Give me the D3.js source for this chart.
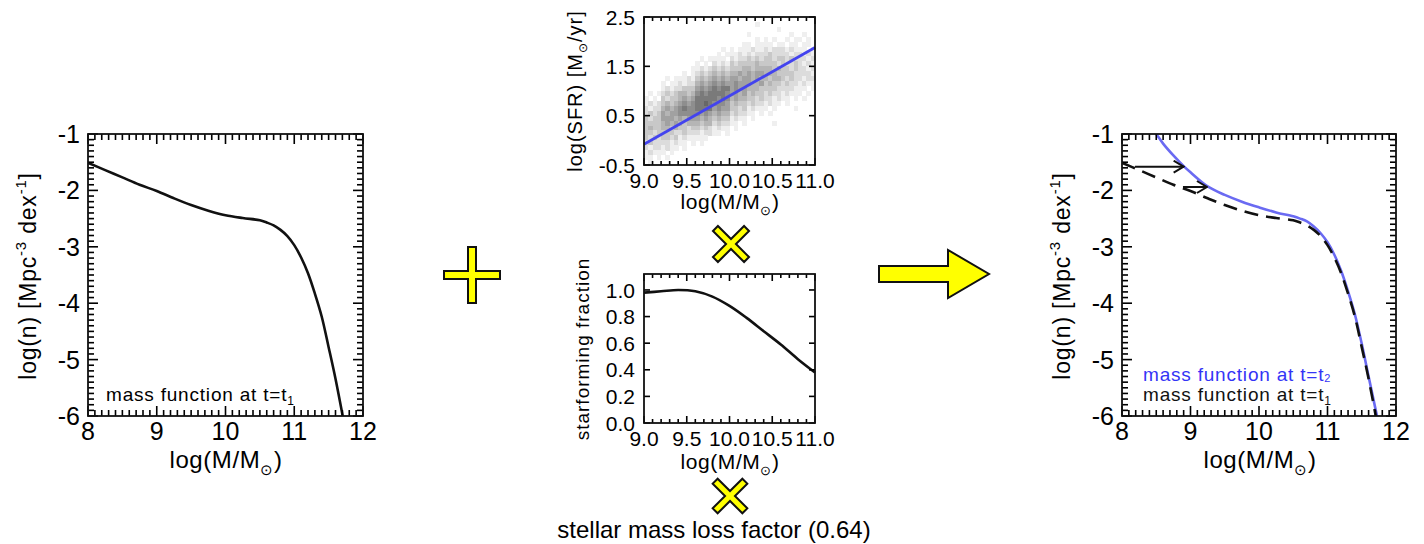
<!DOCTYPE html>
<html>
<head>
<meta charset="utf-8">
<script src="https://cdn.jsdelivr.net/npm/d3@7"></script>
<style>
  body { margin: 0; background: #fff; }
  svg { font-family: "Liberation Sans", Arial, Helvetica, sans-serif; }
</style>
</head>
<body>
<svg id="fig" width="1424" height="544"></svg>
<script>
"use strict"
/**
 * Mass function evolution sketch: MF(t1) + SFR * SF fraction * mass loss -> MF(t2)
 */

// ---- data ----
// mass function at t1: [log M, log n]
const massT1 = [[8.0,-1.51],[8.25,-1.64],[8.5,-1.77],[8.75,-1.90],[9.0,-2.01],[9.25,-2.14],
  [9.5,-2.26],[9.75,-2.36],[10.0,-2.44],[10.25,-2.49],[10.5,-2.53],[10.6,-2.57],[10.7,-2.62],
  [10.8,-2.70],[10.9,-2.81],[11.0,-2.97],[11.1,-3.19],[11.2,-3.47],[11.3,-3.83],[11.4,-4.24],
  [11.5,-4.78],[11.6,-5.34],[11.72,-6.1]];
// mass function at t2
const massT2 = [[8.45,-0.92],[8.5,-1.0],[8.6,-1.17],[8.75,-1.38],[8.9,-1.57],[9.0,-1.68],
  [9.25,-1.93],[9.5,-2.08],[9.75,-2.20],[10.0,-2.30],[10.25,-2.39],[10.5,-2.46],[10.6,-2.50],
  [10.7,-2.55],[10.8,-2.64],[10.9,-2.76],[11.0,-2.92],[11.1,-3.14],[11.2,-3.43],[11.3,-3.79],
  [11.4,-4.2],[11.5,-4.72],[11.6,-5.3],[11.74,-6.1]];
// horizontal shift arrows in the right panel
const shiftArrows = [{x0: 8.19, x1: 8.9, y: -1.58}, {x0: 8.89, x1: 9.24, y: -1.94}];

// star forming main sequence fit
const sfrLine = [[9.0,-0.08],[11.0,1.88]];
// 2d histogram of log SFR vs log M, rows from top (2.5) down, columns from 9.0, 0-7 counts
const sfrBinX = 0.05, sfrBinY = 0.1;
const sfrDensity = [
  "0000 0000 0000 0000 0000 0000 0000 0000 0000 0000",
  "0000 0000 0000 0000 0000 0000 0010 0000 0000 0000",
  "0000 0000 0000 0000 0000 0000 0000 0001 0000 0000",
  "0000 0000 0000 0000 0000 0000 1000 0000 0010 0100",
  "0000 0000 0000 0000 0000 0000 0010 1010 0101 1010",
  "0000 0000 0000 0000 0000 0001 1011 1101 1011 0110",
  "0000 0000 0000 0000 0010 1011 1211 2122 2121 1101",
  "0000 0000 0000 0000 0101 1121 2122 2322 2212 2121",
  "0000 0000 0000 0101 1110 2122 3232 3323 3232 2212",
  "0000 0000 0000 1010 2121 3233 3343 3332 3223 2121",
  "0000 0000 0001 1212 3232 3334 4344 4434 3323 2212",
  "0000 0000 0101 2323 4343 4454 5455 4443 3332 2221",
  "0000 0101 1121 3434 5454 5545 5454 4344 3232 2122",
  "0000 1011 2122 4545 6565 5655 5445 3433 2322 1211",
  "0000 1212 2333 5656 7677 5655 4443 3332 2221 1101",
  "0101 2323 4434 6767 7776 5545 3433 2322 1211 1010",
  "1010 3233 4545 7777 7676 4544 3323 2212 1101 0100",
  "1212 3434 5656 7787 6665 3433 2322 1211 0100 0000",
  "2122 4545 6766 7777 5655 3323 1211 1010 0001 0000",
  "2323 5455 6666 6565 4544 2322 1101 0100 0000 0000",
  "3233 5554 5455 5454 3433 1211 0100 0000 0000 0000",
  "3333 4545 4344 4344 2322 1101 0000 0010 0000 0000",
  "3433 4434 3323 3232 1211 0100 0000 0000 0000 0000",
  "3323 3332 2322 2122 1101 0000 0000 0000 0000 0000",
  "3232 3323 1211 1110 0000 0000 0000 0000 0000 0000",
  "2322 2212 1101 0100 0000 0000 0000 0000 0000 0000",
  "2122 1211 0100 0000 0000 0000 0000 0000 0000 0000",
  "1211 1010 0000 0000 0000 0000 0000 0000 0000 0000",
  "1101 0100 0000 0000 0000 0000 0000 0000 0000 0000",
  "0100 0000 0000 0000 0000 0000 0000 0000 0000 0000"
];
// star forming fraction vs log M
const sfFraction = [[9.0,0.98],[9.2,0.99],[9.4,1.0],[9.6,0.99],[9.8,0.95],[10.0,0.88],
  [10.2,0.79],[10.4,0.69],[10.6,0.59],[10.8,0.48],[11.0,0.38]];

// tick labels
const mfXTicks = [8, 9, 10, 11, 12];
const mfXLabels = ["8", "9", "10", "11", "12"];
const mfYTicks = [-1, -2, -3, -4, -5, -6];
const mfYLabels = ["-1", "-2", "-3", "-4", "-5", "-6"];
const midXTicks = [9.0, 9.5, 10.0, 10.5, 11.0];
const midXLabels = ["9.0", "9.5", "10.0", "10.5", "11.0"];
const sfrYTicks = [2.5, 1.5, 0.5, -0.5];
const sfrYLabels = ["2.5", "1.5", "0.5", "-0.5"];
const fracYTicks = [1.0, 0.8, 0.6, 0.4, 0.2, 0.0];
const fracYLabels = ["1.0", "0.8", "0.6", "0.4", "0.2", "0.0"];

const legendT1 = "mass function at t=t";

// ---- setup ----
const svg = d3.select("#fig");
const INK = "#111111";
const BLUE = "#6a6af2";
const TW = 1.6; // tick thickness

function near(list, v) { return list.some(m => Math.abs(m - v) < 1e-6); }

// frame with inward ticks on all four sides; ticks are small filled bars
function frame(g, x, y, t) {
  const [x0, x1] = x.range(), [yb, yt] = y.range();
  const bars = [];
  d3.range(t.xLo, t.xHi + 1e-6, t.xStep).forEach(v => {
    const len = near(t.xMajor, v) ? t.majLen : t.minLen;
    const px = x(v) - TW / 2;
    bars.push({x: px, y: yb - len, w: TW, h: len});
    bars.push({x: px, y: yt, w: TW, h: len});
  });
  const ys = t.yStep ? d3.range(t.yLo, t.yHi + 1e-6, t.yStep) : t.yMajor;
  ys.forEach(v => {
    const len = near(t.yMajor, v) ? t.yMajLen : t.yMinLen;
    const py = y(v) - TW / 2;
    bars.push({x: x0, y: py, w: len, h: TW});
    bars.push({x: x1 - len, y: py, w: len, h: TW});
  });
  g.append("g").attr("fill", "#000").selectAll("rect").data(bars).enter().append("rect")
    .attr("x", d => d.x).attr("y", d => d.y).attr("width", d => d.w).attr("height", d => d.h);
  g.append("rect").attr("x", x0).attr("y", yt)
    .attr("width", x1 - x0).attr("height", yb - yt)
    .attr("fill", "none").attr("stroke", INK).attr("stroke-width", 1.8);
}

function tickLabels(g, x, y, o) {
  const [x0] = x.range(), [yb] = y.range();
  g.append("g").selectAll("text").data(o.xTicks).enter().append("text")
    .attr("x", d => x(d)).attr("y", yb + o.xOff)
    .attr("text-anchor", "middle").attr("font-size", o.size)
    .text((d, i) => o.xLabels[i]);
  g.append("g").selectAll("text").data(o.yTicks).enter().append("text")
    .attr("x", x0 - o.yOff).attr("y", d => y(d)).attr("dy", "0.36em")
    .attr("text-anchor", "end").attr("font-size", o.size)
    .text((d, i) => o.yLabels[i]);
}

// "log(M/M_sun)" axis title
function massTitle(g, cx, by, size) {
  const t = g.append("text").attr("x", cx).attr("y", by)
    .attr("text-anchor", "middle").attr("font-size", size).attr("letter-spacing", 0.6);
  t.append("tspan").text("log(M/M");
  t.append("tspan").attr("dy", size * 0.28).attr("font-size", size * 0.62).text("\u2299");
  t.append("tspan").attr("dy", -size * 0.28).text(")");
}

function nTitle(g, bx, cy, size) {
  const t = g.append("text").attr("transform", "translate(" + bx + "," + cy + ") rotate(-90)")
    .attr("text-anchor", "middle").attr("font-size", size).attr("letter-spacing", 0.8);
  t.append("tspan").text("log(n)  [Mpc");
  t.append("tspan").attr("dy", -size * 0.45).attr("font-size", size * 0.65).text("-3");
  t.append("tspan").attr("dy", size * 0.45).text(" dex");
  t.append("tspan").attr("dy", -size * 0.45).attr("font-size", size * 0.65).text("-1");
  t.append("tspan").attr("dy", size * 0.45).text("]");
}

function clipFor(id, x, y) {
  const [x0, x1] = x.range(), [yb, yt] = y.range();
  svg.append("clipPath").attr("id", id).append("rect")
    .attr("x", x0).attr("y", yt).attr("width", x1 - x0).attr("height", yb - yt);
  return "url(#" + id + ")";
}

const mfTicks = {xLo: 8, xHi: 12, xStep: 0.1, xMajor: mfXTicks, yLo: -6, yHi: -1, yStep: 0.1,
  yMajor: mfYTicks, majLen: 10, minLen: 6, yMajLen: 10, yMinLen: 6};
const mfLabels = {xTicks: mfXTicks, xLabels: mfXLabels, yTicks: mfYTicks, yLabels: mfYLabels,
  size: 25, xOff: 24, yOff: 8};
const smooth = d3.curveCatmullRom.alpha(0.5);

// ---- left panel: MF at t1 ----
const xL = d3.scaleLinear().domain([8, 12]).range([88, 363]);
const yL = d3.scaleLinear().domain([-6, -1]).range([416, 134]);
const gL = svg.append("g");
const lineL = d3.line().x(d => xL(d[0])).y(d => yL(d[1])).curve(smooth);
gL.append("path").datum(massT1).attr("d", lineL)
  .attr("clip-path", clipFor("clipL", xL, yL))
  .attr("fill", "none").attr("stroke", INK).attr("stroke-width", 2.6);
frame(gL, xL, yL, mfTicks);
tickLabels(gL, xL, yL, mfLabels);
massTitle(gL, 226, 468, 24);
nTitle(gL, 36, 276, 23);
const annL = gL.append("text").attr("x", 106).attr("y", 401)
  .attr("font-size", 19).attr("letter-spacing", 0.8);
annL.append("tspan").text(legendT1);
annL.append("tspan").attr("dy", 4).attr("font-size", 12).text("1");

// ---- middle top: SFR vs M ----
const xS = d3.scaleLinear().domain([9, 11]).range([644, 815]);
const yS = d3.scaleLinear().domain([-0.5, 2.5]).range([165, 17]);
const gS = svg.append("g");
const cells = [];
sfrDensity.forEach((row, r) => {
  row.replace(/ /g, "").split("").forEach((ch, c) => {
    const v = +ch;
    if (v > 0) cells.push({x: 9 + c * sfrBinX, y: 2.5 - (r + 1) * sfrBinY, v: v});
  });
});
const grey = d3.scaleLinear().domain([0, 1, 7]).range(["#ffffff", "#efefef", "#7a7a7a"]);
gS.append("g").attr("shape-rendering", "crispEdges").selectAll("rect").data(cells).enter()
  .append("rect")
  .attr("x", d => xS(d.x)).attr("y", d => yS(d.y + sfrBinY))
  .attr("width", xS(9 + sfrBinX) - xS(9) + 0.3)
  .attr("height", yS(0) - yS(sfrBinY) + 0.3)
  .attr("fill", d => grey(d.v));
gS.append("path").datum(sfrLine)
  .attr("d", d3.line().x(d => xS(d[0])).y(d => yS(d[1])))
  .attr("fill", "none").attr("stroke", "#4343ee").attr("stroke-width", 2.8);
frame(gS, xS, yS, {xLo: 9, xHi: 11, xStep: 0.1, xMajor: midXTicks, yMajor: sfrYTicks,
  majLen: 7, minLen: 4, yMajLen: 6, yMinLen: 3});
tickLabels(gS, xS, yS, {xTicks: midXTicks, xLabels: midXLabels, yTicks: sfrYTicks,
  yLabels: sfrYLabels, size: 21, xOff: 23, yOff: 9});
massTitle(gS, 730, 209, 21);
const tS = gS.append("text").attr("transform", "translate(582,91) rotate(-90)")
  .attr("text-anchor", "middle").attr("font-size", 20).attr("letter-spacing", 1);
tS.append("tspan").text("log(SFR) [M");
tS.append("tspan").attr("dy", 5).attr("font-size", 12).text("\u2299");
tS.append("tspan").attr("dy", -5).text("/yr]");

// ---- middle bottom: star forming fraction ----
const xF = d3.scaleLinear().domain([9, 11]).range([644, 815]);
const yF = d3.scaleLinear().domain([0, 1.12]).range([423, 274]);
const gF = svg.append("g");
gF.append("path").datum(sfFraction)
  .attr("d", d3.line().x(d => xF(d[0])).y(d => yF(d[1])).curve(smooth))
  .attr("fill", "none").attr("stroke", INK).attr("stroke-width", 2.6);
frame(gF, xF, yF, {xLo: 9, xHi: 11, xStep: 0.1, xMajor: midXTicks, yMajor: fracYTicks,
  majLen: 7, minLen: 4, yMajLen: 6, yMinLen: 3});
tickLabels(gF, xF, yF, {xTicks: midXTicks, xLabels: midXLabels, yTicks: fracYTicks,
  yLabels: fracYLabels, size: 21, xOff: 23, yOff: 9});
massTitle(gF, 730, 469, 21);
gF.append("text").attr("transform", "translate(589,349) rotate(-90)")
  .attr("text-anchor", "middle").attr("font-size", 19).attr("letter-spacing", 1)
  .text("starforming fraction");

svg.append("text").attr("x", 714).attr("y", 538).attr("text-anchor", "middle")
  .attr("font-size", 24).text("stellar mass loss factor (0.64)");

// ---- right panel: MF at t2 vs t1 ----
const xR = d3.scaleLinear().domain([8, 12]).range([1122, 1396]);
const yR = d3.scaleLinear().domain([-6, -1]).range([416, 134]);
const gR = svg.append("g");
const lineR = d3.line().x(d => xR(d[0])).y(d => yR(d[1])).curve(smooth);
const clipR = clipFor("clipR", xR, yR);
gR.append("path").datum(massT2).attr("d", lineR).attr("clip-path", clipR)
  .attr("fill", "none").attr("stroke", BLUE).attr("stroke-width", 2.6);
gR.append("path").datum(massT1).attr("d", lineR).attr("clip-path", clipR)
  .attr("fill", "none").attr("stroke", INK).attr("stroke-width", 2.6)
  .attr("stroke-dasharray", "14,8");

svg.append("defs").append("marker").attr("id", "head")
  .attr("viewBox", "0 0 12 14").attr("refX", 11).attr("refY", 7)
  .attr("markerWidth", 12).attr("markerHeight", 14).attr("markerUnits", "userSpaceOnUse")
  .attr("orient", "auto")
  .append("path").attr("d", "M1,1 L11,7 L1,13").attr("fill", "none")
  .attr("stroke", INK).attr("stroke-width", 2);
gR.append("g").selectAll("line").data(shiftArrows).enter().append("line")
  .attr("x1", d => xR(d.x0)).attr("x2", d => xR(d.x1))
  .attr("y1", d => yR(d.y)).attr("y2", d => yR(d.y))
  .attr("stroke", INK).attr("stroke-width", 2).attr("marker-end", "url(#head)");

frame(gR, xR, yR, mfTicks);
tickLabels(gR, xR, yR, mfLabels);
massTitle(gR, 1260, 468, 24);
nTitle(gR, 1070, 276, 23);
const legB = gR.append("text").attr("x", 1143).attr("y", 381)
  .attr("font-size", 19).attr("letter-spacing", 0.8).attr("fill", "#3434f6");
legB.append("tspan").text(legendT1);
legB.append("tspan").attr("dy", 1).attr("font-size", 11).text("2");
const legK = gR.append("text").attr("x", 1143).attr("y", 401)
  .attr("font-size", 19).attr("letter-spacing", 0.8).attr("fill", INK);
legK.append("tspan").text(legendT1);
legK.append("tspan").attr("dy", 4).attr("font-size", 12).text("1");

// ---- yellow operators ----
function crossPts(L, t) {
  return [[-t,-L],[t,-L],[t,-t],[L,-t],[L,t],[t,t],[t,L],[-t,L],[-t,t],[-L,t],[-L,-t],[-t,-t]];
}
const sym = svg.append("g").attr("fill", "#ffff00").attr("stroke", INK)
  .attr("stroke-width", 2).attr("stroke-linejoin", "miter");
sym.append("polygon").attr("points", crossPts(28, 4).join(" "))
  .attr("transform", "translate(472,275)");
sym.append("polygon").attr("points", crossPts(22, 3.5).join(" "))
  .attr("transform", "translate(731,244) rotate(45)");
sym.append("polygon").attr("points", crossPts(21, 3.5).join(" "))
  .attr("transform", "translate(730,496) rotate(45)");
sym.append("polygon")
  .attr("points", [[879,266],[948,266],[948,250],[989,274],[948,298],[948,282],[879,282]].join(" "));
</script>
</body>
</html>
